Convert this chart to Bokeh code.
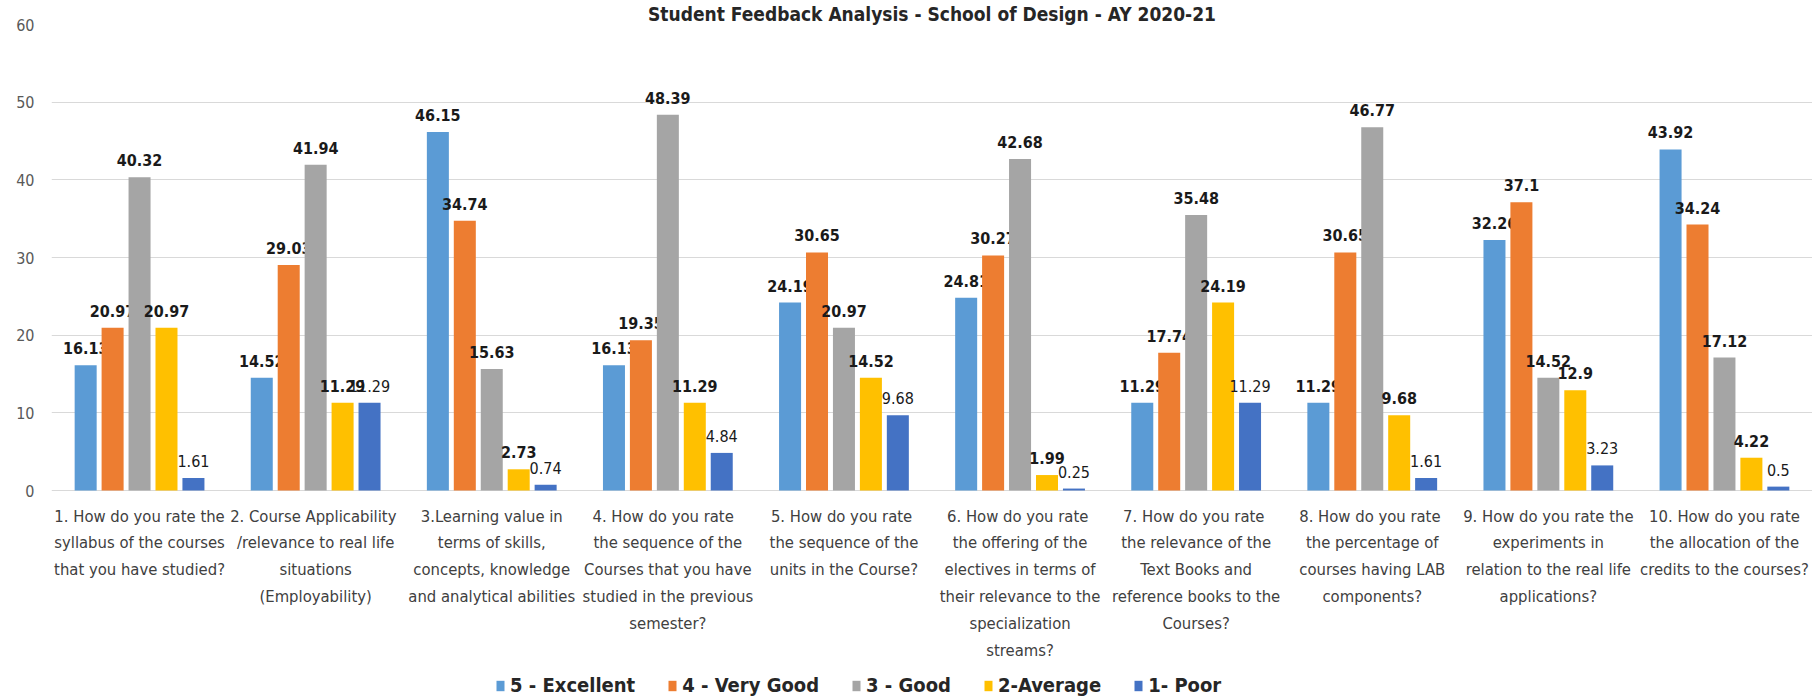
from bokeh.plotting import figure
from bokeh.models import (ColumnDataSource, FactorRange, Range1d, FixedTicker,
                          Legend, LegendItem)
from bokeh.transform import dodge
from bokeh.core.properties import value
from bokeh.embed import file_html
from bokeh.resources import INLINE

# ---------------- data ----------------
questions = ["Q1", "Q2", "Q3", "Q4", "Q5", "Q6", "Q7", "Q8", "Q9", "Q10"]
question_labels = [
    "1. How do you rate the\nsyllabus of the courses\nthat you have studied?",
    "2.  Course Applicability\n/relevance to real life\nsituations\n(Employability)",
    "3.Learning value in\nterms of skills,\nconcepts, knowledge\nand analytical abilities",
    "4.   How do you rate\nthe sequence of the\nCourses that you have\nstudied in the previous\nsemester?",
    "5.  How do you rate\nthe sequence of the\nunits in the Course?",
    "6.  How do you rate\nthe offering of the\nelectives in terms of\ntheir relevance to the\nspecialization\nstreams?",
    "7.  How do you rate\nthe relevance of the\nText Books and\nreference books to the\nCourses?",
    "8.  How do you rate\nthe percentage of\ncourses having LAB\ncomponents?",
    "9. How do you rate the\nexperiments in\nrelation to the real life\napplications?",
    "10. How do you rate\nthe allocation of the\ncredits to the courses?",
]
series_names = ["5 - Excellent", "4 - Very Good", "3 - Good", "2-Average", "1- Poor"]
excellent = [16.13, 14.52, 46.15, 16.13, 24.19, 24.81, 11.29, 11.29, 32.26, 43.92]
very_good = [20.97, 29.03, 34.74, 19.35, 30.65, 30.27, 17.74, 30.65, 37.1, 34.24]
good      = [40.32, 41.94, 15.63, 48.39, 20.97, 42.68, 35.48, 46.77, 14.52, 17.12]
average   = [20.97, 11.29, 2.73, 11.29, 14.52, 1.99, 24.19, 9.68, 12.9, 4.22]
poor      = [1.61, 11.29, 0.74, 4.84, 9.68, 0.25, 11.29, 1.61, 3.23, 0.5]
y_ticks = [0, 10, 20, 30, 40, 50, 60]
title_text = "Student Feedback Analysis - School of Design - AY 2020-21"

# ---------------- styling / layout ----------------
colors = ["#5B9BD5", "#ED7D31", "#A5A5A5", "#FFC000", "#4472C4"]
label_styles = ["bold", "bold", "bold", "bold", "normal"]
FONT = "DejaVu Sans Condensed, Roboto, sans-serif"
step = 0.153
bar_w = 0.125
offsets = [-2 * step, -step, 0.0, step, 2 * step]

W, H = 1812, 700
TOP, LEFT = 24, 51
ZERO_PX = 490            # canvas y of the value axis' zero line
px_per_unit = (ZERO_PX - TOP) / 60.0
y_start = -(H - ZERO_PX) / px_per_unit

series_values = [excellent, very_good, good, average, poor]
data = {"q": questions, "qlabel": question_labels, "zero": [0] * len(questions)}
keys = ["s1", "s2", "s3", "s4", "s5"]
for k, vals in zip(keys, series_values):
    data[k] = vals
    data[k + "_t"] = [f"{v:g}" for v in vals]
source = ColumnDataSource(data)

p = figure(x_range=FactorRange(*questions), y_range=Range1d(y_start, 60),
           width=W, height=H,
           min_border_left=LEFT, min_border_right=0, min_border_top=TOP,
           min_border_bottom=0,
           output_backend="svg", toolbar_location=None,
           background_fill_color="white", border_fill_color="white")
p.outline_line_color = None

# title
p.title.text = title_text
p.title.text_font = FONT
p.title.text_font_size = "19px"
p.title.text_font_style = "bold"
p.title.text_color = "#262626"
p.title.align = "center"
p.title.standoff = 0
p.title.offset = 0

renderers = []
for k, off, c, st in zip(keys, offsets, colors, label_styles):
    r = p.vbar(x=dodge("q", off, range=p.x_range), top=k, width=bar_w,
               source=source, fill_color=c, line_color=None)
    renderers.append(r)
    p.text(x=dodge("q", off, range=p.x_range), y=k, text=k + "_t",
           source=source, text_align="center", text_baseline="alphabetic",
           y_offset=-17, text_font=value(FONT), text_font_size="16px",
           text_font_style=st, text_color="#1a1a1a")

# category labels below the zero line
p.text(x="q", y="zero", text="qlabel", source=source,
       text_align="center", text_baseline="top", y_offset=16,
       text_font=value(FONT), text_font_size="16.5px",
       text_line_height=1.42, text_color="#404040")

# axes
p.yaxis.ticker = FixedTicker(ticks=y_ticks)
p.yaxis.axis_line_color = None
p.yaxis.major_tick_line_color = None
p.yaxis.minor_tick_line_color = None
p.yaxis.major_label_standoff = 11
p.yaxis.major_label_text_font = FONT
p.yaxis.major_label_text_font_size = "16px"
p.yaxis.major_label_text_color = "#595959"

p.xaxis.visible = False
p.xgrid.grid_line_color = None
p.ygrid.grid_line_color = "#d9d9d9"
p.ygrid.grid_line_width = 1

legend = Legend(items=[LegendItem(label=n, renderers=[r])
                       for n, r in zip(series_names, renderers)],
                orientation="horizontal", location=(444, 3),
                glyph_width=10, glyph_height=13, label_standoff=5, spacing=32,
                padding=0, margin=0, border_line_color=None,
                background_fill_alpha=0,
                label_text_font=FONT, label_text_font_size="20px",
                label_text_font_style="bold", label_text_color="#262626")
p.add_layout(legend, "center")

open("out.html", "w").write(file_html(p, INLINE))
